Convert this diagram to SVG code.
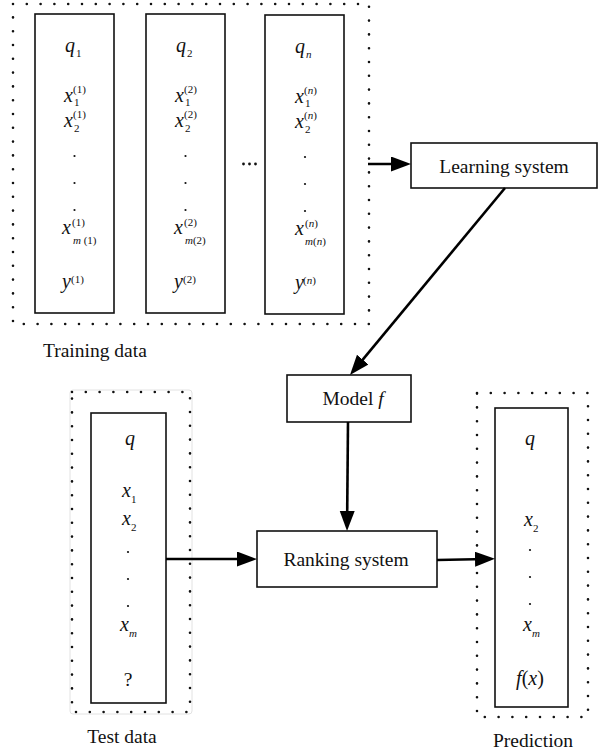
<svg xmlns="http://www.w3.org/2000/svg" width="598" height="751" viewBox="0 0 598 751">
<style>
.box{fill:#fff;stroke:#111;stroke-width:1.6}
.dot{fill:none;stroke:#111;stroke-width:2.6;stroke-linecap:round;stroke-dasharray:0 13.8}
.t{font-size:19.5px;fill:#111}
.m{font-size:20px;font-style:italic;fill:#111}
.s{font-size:11px;fill:#111}
.si{font-size:11px;font-style:italic;fill:#111}
.c{stroke:#000;stroke-width:2.6;fill:none}
.pt{fill:#111}
</style>
<defs>
<marker id="ah" markerUnits="userSpaceOnUse" markerWidth="22" markerHeight="16" refX="12" refY="7.5" orient="auto">
<path d="M0,0 L20,7.5 L0,15 Z" fill="#000"/>
</marker>
<g id="dots3">
<circle cx="0" cy="0" r="1.1"/><circle cx="0" cy="27" r="1.1"/><circle cx="0" cy="54" r="1.1"/>
</g>
</defs>

<g id="training-data">
<rect class="dot" x="13" y="4" width="356" height="320"/>
<text font-family="Liberation Serif" class="t" x="43" y="357">Training data</text>
</g>

<g id="query-1">
<rect class="box" x="35" y="14" width="79" height="299"/>
<text font-family="Liberation Serif" class="m" x="65" y="52">q</text><text font-family="Liberation Serif" class="s" x="76" y="57">1</text>
<text font-family="Liberation Serif" class="m" x="64" y="102">x</text><text font-family="Liberation Serif" class="s" x="73" y="93">(1)</text><text font-family="Liberation Serif" class="s" x="74" y="106">1</text>
<text font-family="Liberation Serif" class="m" x="64" y="127">x</text><text font-family="Liberation Serif" class="s" x="73" y="118">(1)</text><text font-family="Liberation Serif" class="s" x="74" y="132">2</text>
<use href="#dots3" x="74.5" y="156" class="pt"/>
<text font-family="Liberation Serif" class="m" x="62" y="234">x</text><text font-family="Liberation Serif" class="s" x="72" y="226">(1)</text><text font-family="Liberation Serif" x="73" y="244"><tspan class="si">m</tspan><tspan class="s"> (1)</tspan></text>
<text font-family="Liberation Serif" class="m" x="62" y="288">y</text><text font-family="Liberation Serif" class="s" x="71" y="283">(1)</text>
</g>

<g id="query-2">
<rect class="box" x="146" y="14" width="79" height="299"/>
<text font-family="Liberation Serif" class="m" x="176" y="52">q</text><text font-family="Liberation Serif" class="s" x="187" y="57">2</text>
<text font-family="Liberation Serif" class="m" x="175" y="102">x</text><text font-family="Liberation Serif" class="s" x="184" y="93">(2)</text><text font-family="Liberation Serif" class="s" x="185" y="106">1</text>
<text font-family="Liberation Serif" class="m" x="175" y="127">x</text><text font-family="Liberation Serif" class="s" x="184" y="118">(2)</text><text font-family="Liberation Serif" class="s" x="185" y="132">2</text>
<use href="#dots3" x="185.5" y="156" class="pt"/>
<text font-family="Liberation Serif" class="m" x="174" y="234">x</text><text font-family="Liberation Serif" class="s" x="184" y="226">(2)</text><text font-family="Liberation Serif" x="185" y="244"><tspan class="si">m</tspan><tspan class="s">(2)</tspan></text>
<text font-family="Liberation Serif" class="m" x="174" y="288">y</text><text font-family="Liberation Serif" class="s" x="183" y="283">(2)</text>
</g>

<g id="ellipsis" class="pt">
<circle cx="243.5" cy="164" r="1.4"/><circle cx="249.5" cy="164" r="1.4"/><circle cx="255.5" cy="164" r="1.4"/>
</g>

<g id="query-n">
<rect class="box" x="265" y="15" width="79" height="299"/>
<text font-family="Liberation Serif" class="m" x="295" y="53">q</text><text font-family="Liberation Serif" class="si" x="306" y="58">n</text>
<text font-family="Liberation Serif" class="m" x="295" y="103">x</text><text font-family="Liberation Serif" x="304" y="94"><tspan class="s">(</tspan><tspan class="si">n</tspan><tspan class="s">)</tspan></text><text font-family="Liberation Serif" class="s" x="305" y="107">1</text>
<text font-family="Liberation Serif" class="m" x="295" y="128">x</text><text font-family="Liberation Serif" x="304" y="119"><tspan class="s">(</tspan><tspan class="si">n</tspan><tspan class="s">)</tspan></text><text font-family="Liberation Serif" class="s" x="305" y="133">2</text>
<use href="#dots3" x="305" y="157" class="pt"/>
<text font-family="Liberation Serif" class="m" x="295" y="235">x</text><text font-family="Liberation Serif" x="305" y="227"><tspan class="s">(</tspan><tspan class="si">n</tspan><tspan class="s">)</tspan></text><text font-family="Liberation Serif" x="305" y="245"><tspan class="si">m</tspan><tspan class="s">(</tspan><tspan class="si">n</tspan><tspan class="s">)</tspan></text>
<text font-family="Liberation Serif" class="m" x="295" y="289">y</text><text font-family="Liberation Serif" x="303" y="284"><tspan class="s">(</tspan><tspan class="si">n</tspan><tspan class="s">)</tspan></text>
</g>

<g id="learning-system">
<rect class="box" x="411" y="143" width="186" height="45"/>
<text font-family="Liberation Serif" class="t" x="504" y="173" text-anchor="middle">Learning system</text>
</g>

<g id="model-f">
<rect class="box" x="287" y="375" width="124" height="47"/>
<text font-family="Liberation Serif" class="t" x="353" y="405" text-anchor="middle">Model <tspan font-style="italic">f</tspan></text>
</g>

<g id="ranking-system">
<rect class="box" x="257" y="531" width="180" height="56"/>
<text font-family="Liberation Serif" class="t" x="346" y="566" text-anchor="middle">Ranking system</text>
</g>

<g id="test-data">
<rect x="70" y="390" width="122" height="324" rx="3" fill="none" stroke="#e2e2e2" stroke-width="1"/>
<rect class="dot" x="72" y="392" width="118" height="320"/>
<rect class="box" x="91" y="413" width="75" height="290"/>
<text font-family="Liberation Serif" class="m" x="125" y="445">q</text>
<text font-family="Liberation Serif" class="m" x="122" y="497">x</text><text font-family="Liberation Serif" class="s" x="131" y="503">1</text>
<text font-family="Liberation Serif" class="m" x="122" y="525">x</text><text font-family="Liberation Serif" class="s" x="131" y="531">2</text>
<use href="#dots3" x="128" y="552" class="pt"/>
<text font-family="Liberation Serif" class="m" x="120" y="631">x</text><text font-family="Liberation Serif" class="si" x="129" y="637">m</text>
<text font-family="Liberation Serif" class="t" x="128" y="686" text-anchor="middle">?</text>
<text font-family="Liberation Serif" class="t" x="122" y="743" text-anchor="middle">Test data</text>
</g>

<g id="prediction">
<rect class="dot" x="477" y="393" width="111" height="324"/>
<rect class="box" x="495" y="408" width="73" height="299"/>
<text font-family="Liberation Serif" class="m" x="525" y="445">q</text>
<text font-family="Liberation Serif" class="m" x="524" y="526">x</text><text font-family="Liberation Serif" class="s" x="533" y="532">2</text>
<use href="#dots3" x="530" y="550" class="pt"/>
<text font-family="Liberation Serif" class="m" x="523" y="631">x</text><text font-family="Liberation Serif" class="si" x="532" y="637">m</text>
<text font-family="Liberation Serif" class="m" x="530" y="685" text-anchor="middle">f<tspan font-style="normal">(</tspan>x<tspan font-style="normal">)</tspan></text>
<text font-family="Liberation Serif" class="t" x="533" y="747" text-anchor="middle">Prediction</text>
</g>

<g id="connectors">
<line class="c" x1="368" y1="164" x2="403" y2="164" marker-end="url(#ah)"/>
<line class="c" x1="505" y1="188" x2="355.1" y2="368.8" marker-end="url(#ah)"/>
<line class="c" x1="348" y1="422" x2="347.1" y2="523" marker-end="url(#ah)"/>
<line class="c" x1="166" y1="559" x2="249" y2="559" marker-end="url(#ah)"/>
<line class="c" x1="437" y1="560" x2="487" y2="559" marker-end="url(#ah)"/>
</g>
</svg>
